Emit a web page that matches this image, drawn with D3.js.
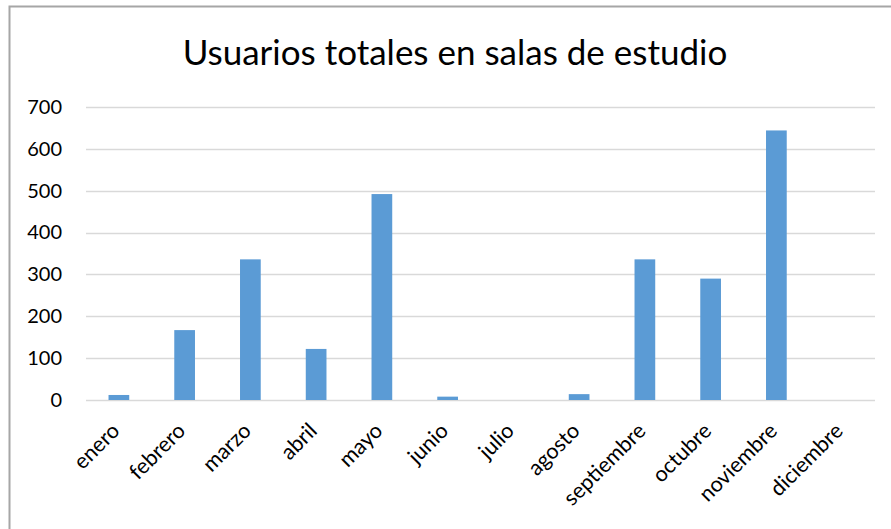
<!DOCTYPE html>
<html>
<head>
<meta charset="utf-8">
<script src="https://cdn.jsdelivr.net/npm/d3@7"></script>
<style>
  body { margin: 0; background: #fff; }
  svg { display: block; font-family: Lato, "Open Sans", sans-serif; }
</style>
</head>
<body>
<script>
    var months = ['enero', 'febrero', 'marzo', 'abril', 'mayo', 'junio', 'julio',
        'agosto', 'septiembre', 'octubre', 'noviembre', 'diciembre'];
    var users = [12, 167, 336, 122, 492, 8, 0, 14, 336, 290, 644, 0];
    var yTicks = [0, 100, 200, 300, 400, 500, 600, 700];
    var title = 'Usuarios totales en salas de estudio';

    var W = 891, H = 529;
    var margin = {top: 107, right: 16, bottom: 129, left: 86};
    var width = W - margin.left - margin.right;
    var height = H - margin.top - margin.bottom;

    var svg = d3.select('body').append('svg')
        .attr('width', W)
        .attr('height', H);

    //outer frame
    svg.append('rect')
        .attr('x', 9.5).attr('y', 6.5)
        .attr('width', 900).attr('height', 600)
        .attr('fill', 'none')
        .attr('stroke', '#a6a6a6')
        .attr('stroke-width', 2);

    svg.append('text')
        .attr('x', 455).attr('y', 65)
        .attr('text-anchor', 'middle')
        .attr('font-size', 35)
        .attr('fill', '#000')
        .text(title);

    var g = svg.append('g')
        .attr('transform', 'translate(' + margin.left + ',' + margin.top + ')');

    var x = d3.scaleBand().domain(months).range([0, width]).paddingInner(0.685).paddingOuter(0.3425);
    var y = d3.scaleLinear().domain([0, 700]).range([height, 0]);

    //gridlines
    g.selectAll('.grid').data(yTicks).enter().append('line')
        .attr('class', 'grid')
        .attr('x1', 0).attr('x2', width)
        .attr('y1', function (d) { return Math.round(y(d)) + 0.5; })
        .attr('y2', function (d) { return Math.round(y(d)) + 0.5; })
        .attr('stroke', '#d9d9d9')
        .attr('stroke-width', 1.5);

    //bars
    g.selectAll('.bar').data(users).enter().append('rect')
        .attr('class', 'bar')
        .attr('x', function (d, i) { return x(months[i]); })
        .attr('y', function (d) { return y(d); })
        .attr('width', x.bandwidth())
        .attr('height', function (d) { return height - y(d); })
        .attr('fill', '#5b9bd5');

    //y axis
    var yAxis = g.append('g')
        .call(d3.axisLeft(y).tickValues(yTicks).tickSize(0).tickPadding(24));
    yAxis.select('.domain').remove();
    yAxis.selectAll('text')
        .attr('font-family', 'Lato, sans-serif')
        .attr('font-size', 20)
        .attr('fill', '#000');

    //x axis
    var xAxis = g.append('g')
        .attr('transform', 'translate(0,' + height + ')')
        .call(d3.axisBottom(x).tickSize(0));
    xAxis.select('.domain').remove();
    xAxis.selectAll('text')
        .attr('font-family', 'Lato, sans-serif')
        .attr('font-size', 21.5)
        .attr('fill', '#000')
        .attr('text-anchor', 'end')
        .attr('dy', null)
        .attr('transform', 'translate(0,30) rotate(-45)');
</script>
</body>
</html>
